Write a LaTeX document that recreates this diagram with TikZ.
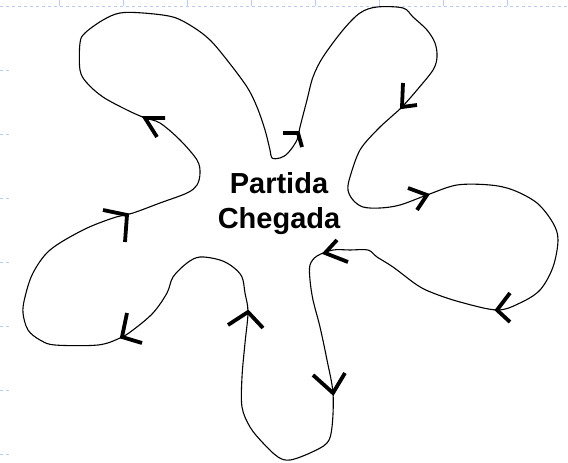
\documentclass[tikz,border=0pt]{standalone}
\usepackage{fontspec}
\setmainfont{Liberation Sans}
\definecolor{gridblue}{RGB}{190,206,242}
\tikzset{
  curve/.style={line width=1.1pt, line join=round, black},
  barb/.style={line width=3.8pt, black},
  grid/.style={gridblue, line width=0.8pt, dash pattern=on 2.5pt off 3.5pt},
  lbl/.style={font=\fontsize{29}{35}\selectfont\bfseries, inner sep=0pt, anchor=base}
}
\begin{document}
\begin{tikzpicture}[x=1pt,y=-1pt]
\useasboundingbox (0,0) rectangle (568,463);
% faint grid artefacts
\draw[grid] (0,6) -- (568,6);
\foreach \x in {59,123,187,251,315,379,443,507} \draw[gridblue,line width=0.8pt] (\x,0) -- (\x,6);
\foreach \y in {70.7,134.7,198.7,262.7,326.7,390.7,454.7} \draw[grid] (0,\y) -- (12,\y);
% the closed path
\draw[curve] plot[smooth cycle, tension=0.55] coordinates {
(272,158) (280,158) (288,153) (297,140) (300,127) (307,100) (313,77) (323,57) (343,30) (360,13) (377,7) (403,8) (413,17) (427,30) (435,43) (437,57) (433,70) (417,90) (402,107) (391,117) (377,130) (360,150) (350,177) (348,190) (353,200) (363,207) (380,208) (400,205) (427,195) (457,185) (490,185) (513,190) (537,203) (553,223) (558,240) (553,267) (540,290) (520,303) (497,310) (460,302) (433,293) (417,285) (393,267) (377,257) (368,250) (350,250) (333,250) (317,256) (310,265) (310,280) (313,300) (320,327) (327,360) (333,393) (332,427) (327,443) (310,453) (290,460) (278,457) (263,443) (250,427) (242,407) (242,377) (245,343) (248,312) (245,293) (242,277) (233,267) (220,260) (200,257) (187,263) (173,277) (167,293) (153,313) (133,330) (120,338) (98,345) (55,345) (40,340) (28,330) (23,313) (25,297) (33,273) (50,250) (83,230) (113,218) (133,213) (160,203) (187,193) (197,185) (200,173) (197,160) (180,140) (160,123) (145,118) (127,110) (103,97) (87,83) (80,70) (80,43) (85,33) (103,20) (120,13) (143,13) (173,17) (193,27) (210,40) (227,60) (247,87) (257,107) (265,130) (270,150)};
% arrow barbs
\foreach \vx/\vy/\ax/\ay/\bx/\by in {
  298/133/283/133/302/147,
  402/107/403/83/417/105,
  427/195/408/188/417/210,
  497/310/510/293/510/322,
  325/253/337/240/348/262,
  333/393/313/375/345/373,
  248/312/228/325/263/328,
  122/337/127/313/142/343,
  127/215/103/210/125/242,
  145/118/165/118/157/137}
  \draw[barb] (\ax,\ay) -- (\vx,\vy) -- (\bx,\by);
% text
\node[lbl] (partida) at (279,193) {Partida};
\node[lbl] (chegada) at (279,228) {Chegada};
\end{tikzpicture}
\end{document}
